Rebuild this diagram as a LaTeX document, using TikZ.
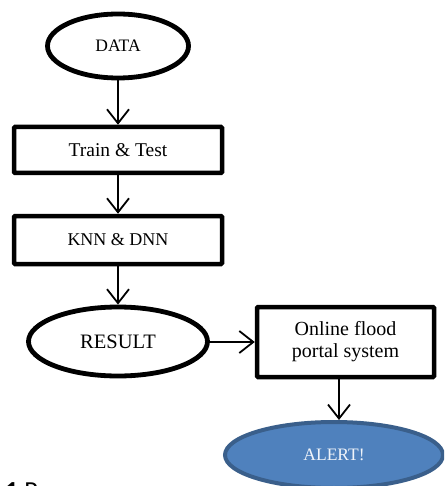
\documentclass[tikz,border=0pt]{standalone}
\usepackage{fontspec}
\setmainfont{Liberation Serif}
\newfontfamily\capfont{Carlito}
\usetikzlibrary{shapes.geometric,arrows.meta}

\begin{document}
\begin{tikzpicture}[x=1pt,y=-1pt,
  box/.style={draw, line width=4.5pt, rounded corners=1pt, align=center, inner sep=2pt},
  oval/.style={draw, ellipse, line width=4.8pt, inner sep=1pt},
  arr/.style={line width=1.8pt, -{Straight Barb[length=14pt,width=22pt]}}]
\useasboundingbox (0,0) rectangle (444,486);
\clip (0,0) rectangle (444,486);
%left column
\node[oval, minimum width=141pt, minimum height=64pt, font=\fontsize{17.5}{20}\selectfont] (data) at (118,46) {DATA};
\node[box, minimum width=208pt, minimum height=46pt, font=\fontsize{19.5}{21}\selectfont] (train) at (118,150) {Train \& Test};
\node[box, minimum width=208pt, minimum height=48pt, font=\fontsize{18}{21}\selectfont] (knn) at (118,240) {KNN \& DNN};
\node[oval, minimum width=179pt, minimum height=69pt, font=\fontsize{20.5}{22}\selectfont] (result) at (118,341.5) {RESULT};
%right side
\node[box, minimum width=177pt, minimum height=70pt, font=\fontsize{20}{22}\selectfont] (portal) at (345.5,342) {Online flood\\portal system};
\node[oval, minimum width=218pt, minimum height=66pt, line width=4pt,
  draw={rgb,255:red,58; green,95; blue,139}, fill={rgb,255:red,79; green,129; blue,189},
  text={rgb,255:red,240; green,244; blue,250}, font=\fontsize{17.5}{20}\selectfont] (alert) at (334,455) {ALERT!};
\node[anchor=base west, inner sep=0pt, font=\capfont\fontsize{26}{30}\selectfont] (caption) at (5,499) {\textbf{1} Process};
\draw[arr] (data) -- (train);
\draw[arr] (train) -- (knn);
\draw[arr] (knn) -- (result);
\draw[arr] (result.east |- portal.west) -- (portal.west);
\draw[arr] ([xshift=-6.5pt]portal.south) -- ([xshift=-6.5pt]portal.south |- alert.north);
\end{tikzpicture}
\end{document}
